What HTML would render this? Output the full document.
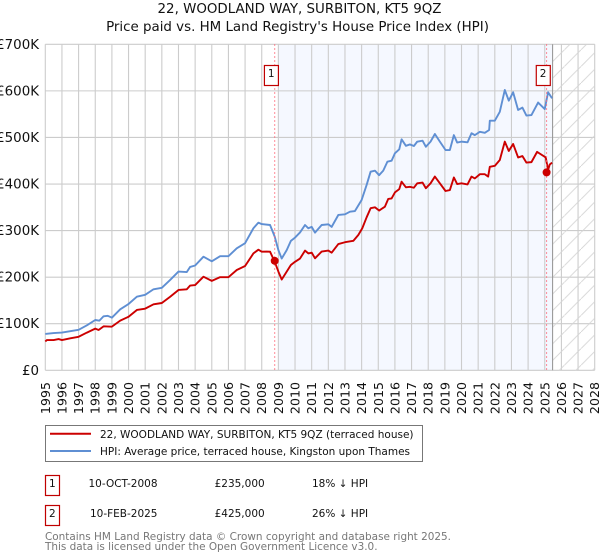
<!DOCTYPE html>
<html>
<head>
<meta charset="utf-8">
<title>22, WOODLAND WAY, SURBITON, KT5 9QZ</title>
<style>
html,body{margin:0;padding:0;background:#fff;width:600px;height:560px;overflow:hidden}
svg{display:block;font-family:"DejaVu Sans","Liberation Sans",sans-serif}
</style>
</head>
<body>
<svg id="chart" xmlns="http://www.w3.org/2000/svg" width="600" height="560" viewBox="0 0 600 560">
  <defs>
    <pattern id="hatch" patternUnits="userSpaceOnUse" width="16.6" height="16.6">
      <path d="M-1,17.6 L17.6,-1" stroke="#d4d4d4" stroke-width="0.9" fill="none"/>
    </pattern>
  </defs>
  <text x="299.5" y="13" text-anchor="middle" font-size="13.4" fill="#111">22, WOODLAND WAY, SURBITON, KT5 9QZ</text>
  <text x="297.5" y="31" text-anchor="middle" font-size="13.4" fill="#111">Price paid vs. HM Land Registry's House Price Index (HPI)</text>
  <g id="bands"></g>
  <g id="grid"></g>
  <g id="forecast"></g>
  <g id="series"></g>
  <g id="sales"></g>
  <g id="ticks"></g>

  <g>
    <rect x="45.5" y="425.5" width="377" height="36" fill="#fff" stroke="#777" stroke-width="1"/>
    <line x1="50" x2="91" y1="433.8" y2="433.8" stroke="#cc0000" stroke-width="2"/>
    <text x="100" y="438" font-size="10.5" fill="#111">22, WOODLAND WAY, SURBITON, KT5 9QZ (terraced house)</text>
    <line x1="50" x2="91" y1="451" y2="451" stroke="#5f8fd3" stroke-width="2"/>
    <text x="100" y="455" font-size="10.5" fill="#111">HPI: Average price, terraced house, Kingston upon Thames</text>
  </g>

  <g font-size="10.5" fill="#111">
    <rect x="45.5" y="475.5" width="14" height="20" fill="#fff" stroke="#c00000" stroke-width="1.2"/>
    <text x="52.3" y="487" text-anchor="middle">1</text>
    <text x="157.5" y="487" text-anchor="end">10-OCT-2008</text>
    <text x="264.7" y="487" text-anchor="end">£235,000</text>
    <text x="312" y="487">18% ↓ HPI</text>
  </g>
  <g font-size="10.5" fill="#111">
    <rect x="45.5" y="505.5" width="14" height="20" fill="#fff" stroke="#c00000" stroke-width="1.2"/>
    <text x="52.3" y="517" text-anchor="middle">2</text>
    <text x="157.5" y="517" text-anchor="end">10-FEB-2025</text>
    <text x="264.7" y="517" text-anchor="end">£425,000</text>
    <text x="312" y="517">26% ↓ HPI</text>
  </g>
  <text x="45" y="540" font-size="10.45" fill="#777">Contains HM Land Registry data © Crown copyright and database right 2025.</text>
  <text x="45" y="550" font-size="10.45" fill="#777">This data is licensed under the Open Government Licence v3.0.</text>
</svg>
<script>
// Chart data (years as decimals, values in £ thousands)
var yearTicks = [1995,1996,1997,1998,1999,2000,2001,2002,2003,2004,2005,2006,2007,2008,2009,2010,2011,2012,2013,2014,2015,2016,2017,2018,2019,2020,2021,2022,2023,2024,2025,2026,2027,2028];
var valueTicks = [0,100,200,300,400,500,600,700];
var valueTickLabels = ['£0','£100K','£200K','£300K','£400K','£500K','£600K','£700K'];

var hpiDates = [1995,1995.5,1996,1996.5,1997,1997.5,1998,1998.25,1998.5,1998.75,1999,1999.5,2000,2000.5,2001,2001.5,2002,2002.5,2003,2003.5,2003.7,2004,2004.5,2005,2005.5,2006,2006.5,2007,2007.5,2007.8,2008,2008.5,2008.78,2009,2009.2,2009.5,2009.75,2010,2010.3,2010.6,2010.8,2011,2011.2,2011.6,2012,2012.2,2012.6,2013,2013.3,2013.6,2014,2014.3,2014.54,2014.8,2015.05,2015.3,2015.55,2015.8,2016,2016.26,2016.4,2016.66,2016.9,2017.14,2017.34,2017.66,2017.86,2018.14,2018.4,2018.7,2019.04,2019.3,2019.54,2019.74,2020,2020.36,2020.6,2020.8,2021.1,2021.4,2021.66,2021.7,2022,2022.3,2022.6,2022.84,2023.1,2023.4,2023.66,2023.9,2024.2,2024.6,2025,2025.2,2025.44];
var hpiValues = [78,80,81,84,87,96.6,108,106.6,116,117,113,131,142.4,158,162,174,177,194,212,211,222,225,244,234,245,245,262,273,305,317,314,312,287,258,240,258,278,285,296,312,305,308,295.6,312,313.5,308,333.5,335,340.6,342,365.7,398,426.5,428.7,419,428.7,448,450,466,474.5,496,482,485,481.6,491,493,480,491,507.4,491,473,473,505,489,491,489.5,509,505,512,510,516,536,536,555,602,579,597,559,564,547,548,575,561,597,584];

var priceDates = [1995,1995.1,1995.5,1995.8,1996,1996.5,1997,1997.5,1998,1998.2,1998.5,1999,1999.5,2000,2000.5,2001,2001.5,2002,2002.5,2003,2003.5,2003.7,2004,2004.5,2005,2005.5,2006,2006.5,2007,2007.5,2007.8,2008,2008.3,2008.5,2008.78,2009,2009.2,2009.5,2009.75,2010,2010.3,2010.6,2010.8,2011,2011.2,2011.6,2012,2012.2,2012.6,2013,2013.5,2013.8,2014.04,2014.3,2014.54,2014.8,2015.05,2015.4,2015.6,2015.8,2016,2016.26,2016.4,2016.66,2016.9,2017.14,2017.34,2017.66,2017.86,2018.14,2018.4,2018.7,2019.04,2019.3,2019.54,2019.74,2020,2020.36,2020.6,2020.8,2021.1,2021.4,2021.6,2021.7,2022,2022.3,2022.6,2022.84,2023.1,2023.4,2023.66,2023.9,2024.2,2024.54,2025.06,2025.2,2025.3,2025.44];
var priceValues = [62,65,65,67,65,68.7,72,81,89.5,86.6,94.4,93.7,106.6,115,129.5,132.4,141.7,144.5,158,172.5,174,182,183,201,192,200,200,215.4,224,251,259,254.7,255,254.7,233,212,195,212,226,233,240,257,251,252.6,240.5,255,257,252.6,271,275,278,290.6,305,328.5,348,350,343,351.4,368,369,382,389,405,393,394,392,401.5,403,391,401.5,416,401.5,385,387,414,400,401.5,399,416,412,421,421,416,437,439,451.6,491,471,486,457,460,446,447,469,457,430,442,446,433.6];

var saleDates = [2008.78,2025.11];
var salePrices = [235,425];
var saleLabels = ['1','2'];

var forecastStart = 2025.47;
var shadeStart = 2009;

var SVGNS = 'http://www.w3.org/2000/svg';
var plotLeft = 45.3, plotRight = 594.7, plotTop = 44.3, plotBottom = 370.3;
function xAt(year){ return plotLeft + (year - 1995) * (plotRight - plotLeft) / (2028 - 1995); }
function yAt(value){ return plotBottom - value * (plotBottom - plotTop) / 700; }
function make(tag, parentId){
  var el = document.createElementNS(SVGNS, tag);
  document.getElementById(parentId).appendChild(el);
  return el;
}
function set(el, props){ for (var k in props) el.setAttribute(k, props[k]); return el; }

// historic shading
var band = make('rect','bands');


set(band,{x:xAt(shadeStart),y:plotTop,width:xAt(forecastStart)-xAt(shadeStart),height:plotBottom-plotTop,fill:'#f5f8ff'});

// grid
yearTicks.forEach(function(year){
  var g = make('line','grid');
  
  
  set(g,{x1:xAt(year),x2:xAt(year),y1:plotTop,y2:plotBottom,stroke:'#cccccc','stroke-width':1.1});
  var t = make('text','ticks');
  
  
  set(t,{'text-anchor':'end','font-size':12.6,fill:'#111',transform:'translate('+(xAt(year)+4.5)+',382) rotate(-90)'});
  t.textContent = year;
});
valueTicks.forEach(function(v,i){
  var g = make('line','grid');
  
  
  set(g,{x1:plotLeft,x2:plotRight,y1:yAt(v),y2:yAt(v),stroke:'#cccccc','stroke-width':1.1});
  var t = make('text','ticks');
  
  
  set(t,{x:39,y:yAt(v)+4.5,'text-anchor':'end','font-size':13.4,fill:'#111'});
  t.textContent = valueTickLabels[i];
});

// forecast hatch
var hatch = make('rect','forecast');


set(hatch,{x:xAt(forecastStart),y:plotTop,width:plotRight-xAt(forecastStart),height:plotBottom-plotTop,fill:'url(#hatch)'});
var fl = make('line','forecast');


set(fl,{x1:xAt(forecastStart),x2:xAt(forecastStart),y1:plotTop,y2:plotBottom,stroke:'#999999','stroke-width':1.1});

// series lines
function linePath(dates, values){
  return dates.map(function(d,i){ return (i?'L':'M') + xAt(d).toFixed(2) + ',' + yAt(values[i]).toFixed(2); }).join(' ');
}
var hpiLine = make('path','series');


set(hpiLine,{d:linePath(hpiDates,hpiValues),fill:'none',stroke:'#5f8fd3','stroke-width':1.9,'stroke-linejoin':'round'});
var priceLine = make('path','series');


set(priceLine,{d:linePath(priceDates,priceValues),fill:'none',stroke:'#cc0000','stroke-width':1.9,'stroke-linejoin':'round'});

// sale markers
saleDates.forEach(function(d,i){
  var x = xAt(d), y = yAt(salePrices[i]);
  var v = make('line','sales');
  
  
  set(v,{x1:x,x2:x,y1:plotTop,y2:plotBottom,stroke:'#ff6677','stroke-width':1,'stroke-dasharray':'1.5 2.5'});
  var m = make('circle','sales');
  
  
  set(m,{cx:x,cy:y,r:4,fill:'#cc0000'});
  var b = make('rect','sales');
  
  
  set(b,{x:x-10.3,y:65.5,width:14,height:20,fill:'#fff',stroke:'#c00000','stroke-width':1.2});
  var t = make('text','sales');
  
  
  set(t,{x:x-3.5,y:77,'text-anchor':'middle','font-size':10.5,fill:'#111'});
  t.textContent = saleLabels[i];
});
</script>
</body>
</html>
